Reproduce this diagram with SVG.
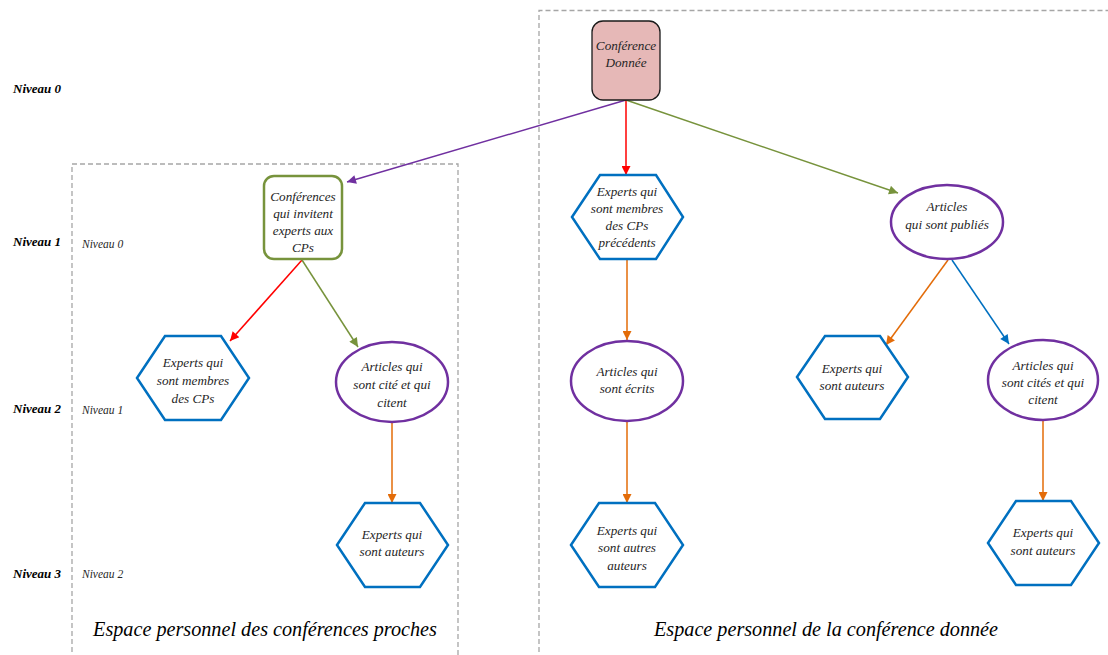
<svg xmlns="http://www.w3.org/2000/svg" width="1108" height="655" viewBox="0 0 1108 655">
<style>
.t{font-family:"Liberation Serif","Times New Roman",serif;font-style:italic;font-size:13.2px;fill:#262626;text-anchor:middle}
.lv{font-family:"Liberation Serif","Times New Roman",serif;font-style:italic;font-weight:bold;font-size:13px;fill:#000}
.lvs{font-family:"Liberation Serif","Times New Roman",serif;font-style:italic;font-size:11.5px;fill:#262626}
.sp{font-family:"Liberation Serif","Times New Roman",serif;font-style:italic;font-size:20.2px;fill:#000;text-anchor:middle}
.box{fill:none;stroke:#a6a6a6;stroke-width:1.3;stroke-dasharray:5 3}
.hex{fill:#fff;stroke:#0070c0;stroke-width:2.5}
.ell{fill:#fff;stroke:#7030a0;stroke-width:2.5}
.c{fill:none;stroke-width:1.5}
</style>
<defs>
<marker id="aP" viewBox="0 0 10 10" refX="10" refY="5" markerWidth="11" markerHeight="9" markerUnits="userSpaceOnUse" orient="auto"><path d="M0,0 L10,5 L0,10 z" fill="#7030a0"/></marker>
<marker id="aR" viewBox="0 0 10 10" refX="10" refY="5" markerWidth="11" markerHeight="9" markerUnits="userSpaceOnUse" orient="auto"><path d="M0,0 L10,5 L0,10 z" fill="#ff0000"/></marker>
<marker id="aG" viewBox="0 0 10 10" refX="10" refY="5" markerWidth="11" markerHeight="9" markerUnits="userSpaceOnUse" orient="auto"><path d="M0,0 L10,5 L0,10 z" fill="#77933c"/></marker>
<marker id="aO" viewBox="0 0 10 10" refX="10" refY="5" markerWidth="11" markerHeight="9" markerUnits="userSpaceOnUse" orient="auto"><path d="M0,0 L10,5 L0,10 z" fill="#e36c09"/></marker>
<marker id="aB" viewBox="0 0 10 10" refX="10" refY="5" markerWidth="11" markerHeight="9" markerUnits="userSpaceOnUse" orient="auto"><path d="M0,0 L10,5 L0,10 z" fill="#0070c0"/></marker>
</defs>
<rect width="1108" height="655" fill="#fff"/>
<g id="frames">
<path class="box" d="M72,660 V164 H458 V660"/>
<path class="box" d="M539,660 V10.5 H1108"/>
</g>
<g id="levels">
<text class="lv" x="13" y="93">Niveau 0</text>
<text class="lv" x="13" y="246">Niveau 1</text>
<text class="lv" x="13" y="413">Niveau 2</text>
<text class="lv" x="13" y="578">Niveau 3</text>
<text class="lvs" x="82" y="248">Niveau 0</text>
<text class="lvs" x="82" y="414">Niveau 1</text>
<text class="lvs" x="82" y="578">Niveau 2</text>
</g>
<g id="connectors">
<line class="c" stroke="#7030a0" x1="626" y1="100" x2="347" y2="182" marker-end="url(#aP)"/>
<line class="c" stroke="#ff0000" x1="626" y1="100" x2="626" y2="175" marker-end="url(#aR)"/>
<line class="c" stroke="#77933c" x1="626" y1="100" x2="898" y2="193" marker-end="url(#aG)"/>
<line class="c" stroke="#ff0000" x1="302" y1="260" x2="230" y2="341" marker-end="url(#aR)"/>
<line class="c" stroke="#77933c" x1="302" y1="260" x2="358" y2="347" marker-end="url(#aG)"/>
<line class="c" stroke="#e36c09" x1="392" y1="423" x2="392" y2="503" marker-end="url(#aO)"/>
<line class="c" stroke="#e36c09" x1="627" y1="259" x2="627" y2="340" marker-end="url(#aO)"/>
<line class="c" stroke="#e36c09" x1="627" y1="421" x2="627" y2="503" marker-end="url(#aO)"/>
<line class="c" stroke="#e36c09" x1="948" y1="260" x2="886" y2="345" marker-end="url(#aO)"/>
<line class="c" stroke="#0070c0" x1="952" y1="260" x2="1009" y2="344" marker-end="url(#aB)"/>
<line class="c" stroke="#e36c09" x1="1043" y1="421" x2="1043" y2="501" marker-end="url(#aO)"/>
</g>
<g id="n-conf-donnee">
<rect x="592" y="21" width="68" height="79" rx="11" fill="#e6b8b7" stroke="#1a1a1a" stroke-width="1.3"/>
<text class="t" x="626" y="50">Conférence</text>
<text class="t" x="626" y="67">Donnée</text>
</g>
<g id="n-conf-invitent">
<rect x="264" y="176" width="78" height="83" rx="10" fill="#fff" stroke="#77933c" stroke-width="2.5"/>
<text class="t" x="303" y="201">Conférences</text>
<text class="t" x="303" y="218">qui invitent</text>
<text class="t" x="303" y="235">experts aux</text>
<text class="t" x="303" y="252">CPs</text>
</g>
<g id="n-experts-membres-prec">
<polygon class="hex" points="572,217 600,175 656,175 683,217 656,259 600,259"/>
<text class="t" x="627" y="196">Experts qui</text>
<text class="t" x="627" y="213">sont membres</text>
<text class="t" x="627" y="230">des CPs</text>
<text class="t" x="627" y="247">précédents</text>
</g>
<g id="n-articles-publies">
<ellipse class="ell" cx="947" cy="222" rx="56" ry="37"/>
<text class="t" x="947" y="211">Articles</text>
<text class="t" x="947" y="229">qui sont publiés</text>
</g>
<g id="n-experts-membres">
<polygon class="hex" points="137,378 165,336 221,336 249,378 221,420 165,420"/>
<text class="t" x="193" y="367">Experts qui</text>
<text class="t" x="193" y="385">sont membres</text>
<text class="t" x="193" y="403">des CPs</text>
</g>
<g id="n-articles-cite">
<ellipse class="ell" cx="392" cy="382" rx="56" ry="40"/>
<text class="t" x="392" y="371">Articles qui</text>
<text class="t" x="392" y="389">sont cité et qui</text>
<text class="t" x="392" y="407">citent</text>
</g>
<g id="n-experts-auteurs-l">
<polygon class="hex" points="337,545 365,503 420,503 448,545 420,587 365,587"/>
<text class="t" x="392" y="539">Experts qui</text>
<text class="t" x="392" y="556">sont auteurs</text>
</g>
<g id="n-articles-ecrits">
<ellipse class="ell" cx="627" cy="381" rx="56" ry="40"/>
<text class="t" x="627" y="376">Articles qui</text>
<text class="t" x="627" y="393">sont écrits</text>
</g>
<g id="n-experts-autres">
<polygon class="hex" points="571,545 599,503 655,503 683,545 655,587 599,587"/>
<text class="t" x="627" y="535">Experts qui</text>
<text class="t" x="627" y="552">sont autres</text>
<text class="t" x="627" y="570">auteurs</text>
</g>
<g id="n-experts-auteurs-m">
<polygon class="hex" points="797,377 825,336 880,336 908,377 880,419 825,419"/>
<text class="t" x="852" y="373">Experts qui</text>
<text class="t" x="852" y="390">sont auteurs</text>
</g>
<g id="n-articles-cites">
<ellipse class="ell" cx="1043" cy="380" rx="55" ry="40"/>
<text class="t" x="1043" y="370">Articles qui</text>
<text class="t" x="1043" y="387">sont cités et qui</text>
<text class="t" x="1043" y="404">citent</text>
</g>
<g id="n-experts-auteurs-r">
<polygon class="hex" points="988,543 1016,501 1071,501 1099,543 1071,585 1016,585"/>
<text class="t" x="1043" y="537">Experts qui</text>
<text class="t" x="1043" y="555">sont auteurs</text>
</g>
<g id="spaces">
<text class="sp" x="265" y="636">Espace personnel des conférences proches</text>
<text class="sp" x="826" y="636">Espace personnel de la conférence donnée</text>
</g>
</svg>
